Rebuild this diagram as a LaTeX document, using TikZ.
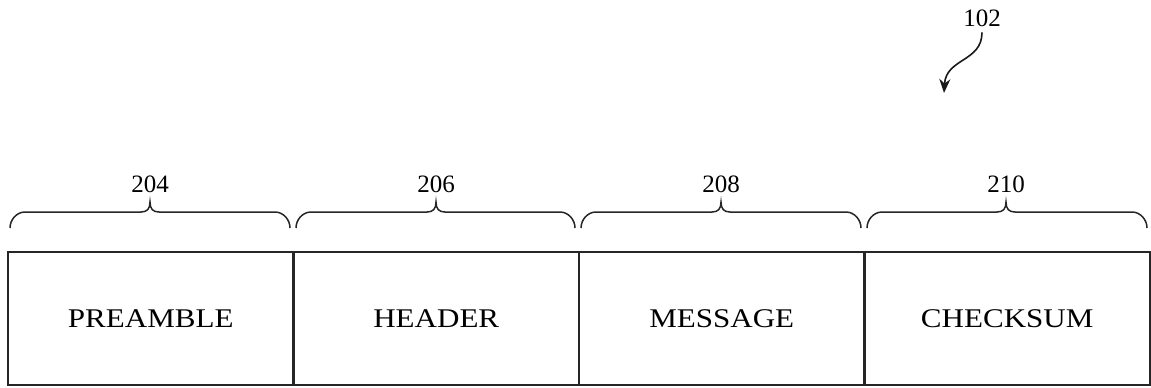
\documentclass[tikz,border=0pt]{standalone}
\usepackage{fontspec}
\setmainfont{Liberation Serif}
\newfontfamily\cellfont{Liberation Serif}[FakeStretch=1.15]
\usetikzlibrary{arrows.meta,positioning}

\tikzset{
  cell/.style={draw=black!85, line width=2.6pt, minimum width=285.5pt,
    minimum height=133pt, inner sep=0pt, outer sep=0pt, anchor=north west,
    font=\cellfont\fontsize{27}{30}\selectfont},
  refnum/.style={font=\fontsize{25}{28}\selectfont, inner sep=0pt, anchor=base},
  bracket/.style={draw=black!85, line width=1.5pt},
  pointer/.style={draw=black!90, line width=1.6pt,
    -{Stealth[length=14pt,width=11pt]}}
}

% one curly bracket over a span: left x, right x, tip x
\newcommand{\spanbrace}[3]{%
  \draw[bracket] (#1,228) .. controls (#1,219.7) and ({#1+6.7},212) .. ({#1+15},212)
    -- ({#3-9},212) .. controls ({#3-3},212) and (#3,209) .. (#3,202)
    .. controls (#3,209) and ({#3+3},212) .. ({#3+9},212)
    -- ({#2-15},212) .. controls ({#2-6.7},212) and (#2,219.7) .. (#2,228);}

\begin{document}
\begin{tikzpicture}[x=1pt,y=-1pt]
\useasboundingbox (0,0) rectangle (1151,388);

% the four fields of the frame
\node[cell] (pre) at (8,252) {PREAMBLE};
\node[cell] (hdr) at (pre.north east) {HEADER};
\node[cell] (msg) at (hdr.north east) {MESSAGE};
\node[cell] (chk) at (msg.north east) {CHECKSUM};

% brackets and reference numerals for each field
\spanbrace{10}{290}{150}
\spanbrace{296}{575}{436}
\spanbrace{581}{861}{721}
\spanbrace{867}{1147}{1006}

\node[refnum] (n204) at (150,192) {204};
\node[refnum] (n206) at (436,192) {206};
\node[refnum] (n208) at (721,192) {208};
\node[refnum] (n210) at (1006,192) {210};

% overall reference numeral with its pointer
\node[refnum] (n102) at (982,27) {102};
\coordinate (tip) at (944,93);
\draw[pointer] ([yshift=-5pt]n102.south) .. controls (982,62) and (946,58) .. (tip);
\end{tikzpicture}
\end{document}
